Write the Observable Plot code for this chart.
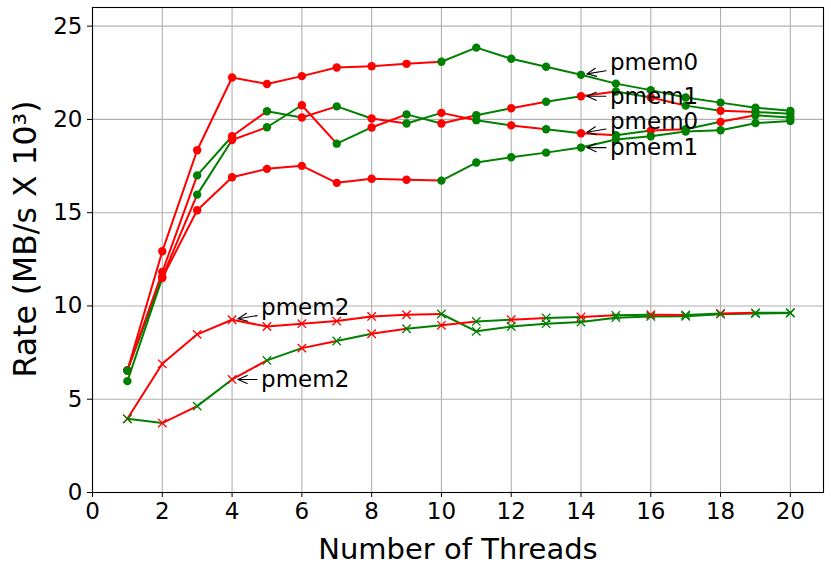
<!DOCTYPE html>
<html><head><meta charset="utf-8">
<script src="https://cdn.jsdelivr.net/npm/d3@7"></script>
<script src="https://cdn.jsdelivr.net/npm/@observablehq/plot@0.6"></script>
<style>body{margin:0;background:#fff;}</style>
</head><body><div id="chart"></div>
<script>
const threads = [1,2,3,4,5,6,7,8,9,10,11,12,13,14,15,16,17,18,19,20];
const xTicks = [0,2,4,6,8,10,12,14,16,18,20];
const yTicks = [0,5,10,15,20,25];

// Rate values (MB/s x 10^3) per series
const pmem0Top   = [6.54,12.93,18.35,22.25,21.90,22.32,22.78,22.85,22.98,23.09,23.85,23.25,22.82,22.39,21.92,21.57,21.18,20.90,20.63,20.46];
const pmem1Upper = [6.54,11.55,15.97,18.90,19.58,20.76,18.70,19.57,20.27,19.78,20.22,20.60,20.95,21.24,21.50,21.18,20.74,20.46,20.40,20.30];
const pmem0Lower = [6.54,11.82,17.00,19.10,20.44,20.10,20.70,20.05,19.78,20.35,19.96,19.68,19.47,19.26,19.15,19.40,19.47,19.87,20.22,20.10];
const pmem1Lower = [5.97,11.50,15.13,16.90,17.35,17.51,16.60,16.82,16.77,16.72,17.69,17.97,18.22,18.49,18.92,19.10,19.35,19.42,19.80,19.92];
const pmem2Upper = [3.95,6.90,8.48,9.26,8.90,9.05,9.19,9.44,9.53,9.57,8.64,8.90,9.05,9.14,9.37,9.44,9.45,9.56,9.59,9.62];
const pmem2Lower = [3.95,3.72,4.63,6.06,7.08,7.74,8.12,8.51,8.78,8.96,9.17,9.26,9.36,9.41,9.50,9.53,9.52,9.60,9.63,9.64];

// per-point colour category (r = red, g = green); a segment takes the colour of its start point
const colTopBottom = ["r","r","r","r","r","r","r","r","r","g","g","g","g","g","g","g","g","g","g","g"];
const colBottom    = ["g","r","r","r","r","r","r","r","r","g","g","g","g","g","g","g","g","g","g","g"];
const colMidA      = ["g","r","g","r","g","r","g","r","g","r","g","r","g","r","g","r","g","r","g","g"];
const colMidB      = ["r","r","g","r","g","r","g","r","g","r","g","r","g","r","g","r","g","r","g","g"];
const colAlt       = ["g","r","g","r","g","r","g","r","g","r","g","r","g","r","g","r","g","r","g","g"];

const series = [
  {id:"pmem0Top",   values:pmem0Top,   colors:colTopBottom, symbol:"circle"},
  {id:"pmem1Upper", values:pmem1Upper, colors:colMidA,      symbol:"circle"},
  {id:"pmem0Lower", values:pmem0Lower, colors:colMidB,      symbol:"circle"},
  {id:"pmem1Lower", values:pmem1Lower, colors:colBottom,    symbol:"circle"},
  {id:"pmem2Upper", values:pmem2Upper, colors:colTopBottom, symbol:"times"},
  {id:"pmem2Lower", values:pmem2Lower, colors:colAlt,       symbol:"times"}
];

// annotations: series, thread count pointed at, label, vertical text offset (px)
const annotations = [
  {id:"pmem0Top",   at:14, label:"pmem0", off:-12},
  {id:"pmem1Upper", at:14, label:"pmem1", off:0},
  {id:"pmem0Lower", at:14, label:"pmem0", off:-12},
  {id:"pmem1Lower", at:14, label:"pmem1", off:0},
  {id:"pmem2Upper", at:4,  label:"pmem2", off:-12},
  {id:"pmem2Lower", at:4,  label:"pmem2", off:0}
];

const W = 831, H = 573, mL = 92, mR = 8, mT = 7, mB = 81;
const xDomain = [0, 20.95], yDomain = [0, 26];
const colorMap = {r:"#ff0000", g:"#008000"};

const points = [], segments = [];
for (const s of series) {
  s.values.forEach((v, i) => {
    points.push({id:s.id, x:threads[i], y:v, c:s.colors[i], symbol:s.symbol});
    if (i < s.values.length - 1) {
      segments.push({id:s.id, x1:threads[i], y1:v, x2:threads[i+1], y2:s.values[i+1], c:s.colors[i]});
    }
  });
}
const order = {r:0, g:1};
const circles = points.filter(p => p.symbol === "circle").sort((a,b) => order[a.c]-order[b.c]);
const crosses = points.filter(p => p.symbol === "times").sort((a,b) => order[a.c]-order[b.c]);

// pixel <-> data helpers using the same scales as the plot
const sx = Plot.scale({x:{domain:xDomain, range:[mL, W - mR]}});
const sy = Plot.scale({y:{domain:yDomain, range:[H - mB, mT]}});

const labelRows = [], arrowRows = [];
annotations.forEach((a, k) => {
  const s = series.find(s => s.id === a.id);
  const v = s.values[threads.indexOf(a.at)];
  const px = sx.apply(a.at), py = sy.apply(v);
  labelRows.push({x: sx.invert(px + 29), y: sy.invert(py + a.off), label: a.label});
  const cx = 72, cy = a.off;
  const tail = [px + 25, py + cy * 25 / cx];
  const tip = [px + 6, py + cy * 6 / cx];
  const len = Math.hypot(tip[0]-tail[0], tip[1]-tail[1]);
  const ux = (tip[0]-tail[0]) / len, uy = (tip[1]-tail[1]) / len;
  const L = 10, th = 24 * Math.PI / 180;
  const rot = (ang) => [tip[0] - L * (ux * Math.cos(ang) - uy * Math.sin(ang)), tip[1] - L * (ux * Math.sin(ang) + uy * Math.cos(ang))];
  const b1 = rot(th), b2 = rot(-th);
  const toData = p => ({x: sx.invert(p[0]), y: sy.invert(p[1])});
  arrowRows.push({z:"s"+k, ...toData(tail)}, {z:"s"+k, ...toData(tip)});
  arrowRows.push({z:"h"+k, ...toData(b1)}, {z:"h"+k, ...toData(tip)}, {z:"h"+k, ...toData(b2)});
});

const chart = Plot.plot({
  width: W, height: H,
  marginLeft: mL, marginRight: mR, marginTop: mT, marginBottom: mB,
  style: {fontFamily: "DejaVu Sans", background: "white", color: "black", overflow: "visible"},
  x: {domain: xDomain},
  y: {domain: yDomain},
  color: {domain: ["r","g"], range: [colorMap.r, colorMap.g]},
  marks: [
    Plot.gridX(xTicks, {stroke: "#b0b0b0", strokeOpacity: 1, strokeWidth: 1.1}),
    Plot.gridY(yTicks, {stroke: "#b0b0b0", strokeOpacity: 1, strokeWidth: 1.1}),
    Plot.axisX({ticks: xTicks, tickSize: 5, tickPadding: 5, fontSize: 23, label: null, tickFormat: d => String(d)}),
    Plot.axisY({ticks: yTicks, tickSize: 5, tickPadding: 5, fontSize: 23, label: null, tickFormat: d => String(d)}),
    Plot.link(segments, {x1: "x1", y1: "y1", x2: "x2", y2: "y2", stroke: "c", strokeWidth: 2, strokeLinecap: "round"}),
    Plot.dot(circles, {x: "x", y: "y", fill: "c", r: 4.2, stroke: null}),
    Plot.dot(crosses, {x: "x", y: "y", stroke: "c", symbol: "times", r: 3.9, strokeWidth: 1.3}),
    Plot.line(arrowRows, {x: "x", y: "y", z: "z", stroke: "black", strokeWidth: 1.1}),
    Plot.text(labelRows, {x: "x", y: "y", text: "label", textAnchor: "start", lineAnchor: "middle", fontSize: 23, fill: "black"}),
    Plot.frame({stroke: "black", strokeWidth: 1.1}),
    Plot.text(["Number of Threads"], {text: d => d, frameAnchor: "bottom", textAnchor: "middle", dy: 66, lineAnchor: "bottom", fontSize: 29, fill: "black"}),
    Plot.text(["Rate (MB/s X 10³)"], {text: d => d, frameAnchor: "left", textAnchor: "middle", dx: -67, dy: -11, rotate: -90, lineAnchor: "middle", fontSize: 31.5, fill: "black"})
  ]
});
document.getElementById("chart").appendChild(chart);
</script>
</body></html>
